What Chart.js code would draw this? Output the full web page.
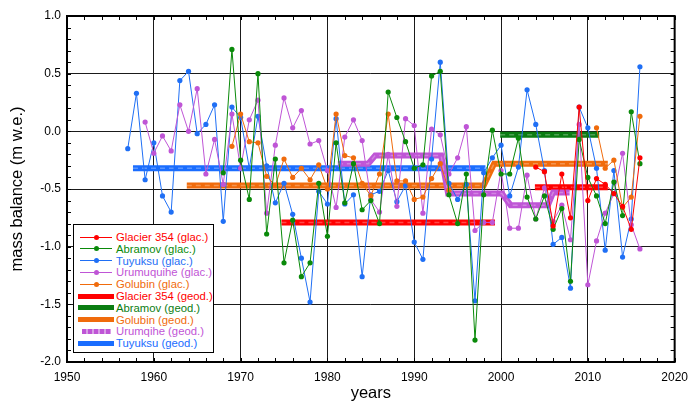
<!DOCTYPE html>
<html><head><meta charset="utf-8">
<script src="https://cdn.jsdelivr.net/npm/chart.js@4"></script>
<style>
html,body{margin:0;padding:0;background:#fff;}
#wrap{position:relative;width:696px;height:404px;}
#legend{position:absolute;left:73px;top:224px;width:139px;height:127px;border:1px solid #000;background:#fff;font-family:"Liberation Sans",Arial,sans-serif;font-size:11.3px;}
.row{position:absolute;left:0;width:139px;height:12px;}
.txt{position:absolute;left:42px;top:0;line-height:12px;white-space:nowrap;}
.ln{position:absolute;left:6px;top:5.5px;width:32px;height:1px;}
.dot{position:absolute;left:19.5px;top:3.5px;width:5px;height:5px;border-radius:50%;}
.bar{position:absolute;left:4px;top:3.5px;width:36px;height:5px;}
</style>
</head><body>
<div id="wrap">
<canvas id="c" width="696" height="404"></canvas>
<div id="legend"></div>
</div>
<script>
// ---- data ----
const tuyuksuYears = [1957,1958,1959,1960,1961,1962,1963,1964,1965,1966,1967,1968,1969,1970,1971,1972,1973,1974,1975,1976,1977,1978,1979,1980,1981,1982,1983,1984,1985,1986,1987,1988,1989,1990,1991,1992,1993,1994,1995,1996,1997,1998,1999,2000,2001,2002,2003,2004,2005,2006,2007,2008,2009,2010,2011,2012,2013,2014,2015,2016];
const tuyuksuValues = [-0.15,0.33,-0.42,-0.10,-0.56,-0.70,0.44,0.52,-0.02,0.06,0.23,-0.78,0.21,0.12,-0.32,0.13,-0.30,-0.62,-0.45,-0.72,-1.10,-1.48,-0.52,-0.63,0.11,-0.63,-0.55,-1.26,-0.55,-0.52,-0.34,-0.61,-0.47,-0.96,-1.11,-0.24,0.60,-0.45,-0.59,-0.46,-1.47,-0.36,-0.23,-0.12,-0.56,-0.31,0.36,0.06,-0.34,-0.98,-0.92,-1.36,0.21,0.03,-0.32,-1.03,-0.34,-1.09,-0.76,0.56];

const abramovYears = [1968,1969,1970,1971,1972,1973,1974,1975,1976,1977,1978,1979,1980,1981,1982,1983,1984,1985,1986,1987,1988,1989,1990,1991,1992,1993,1994,1995,1996,1997,1998,1999,2000,2001,2002,2003,2004,2005,2006,2007,2008,2009,2010,2011,2012,2013,2014,2015,2016];
const abramovValues = [-0.36,0.71,-0.25,-0.59,0.50,-0.89,-0.24,-1.14,-0.77,-1.26,-1.14,-0.45,-0.91,-0.10,-0.62,-0.28,-0.68,-0.60,-0.80,0.34,0.12,-0.09,-0.32,-0.29,0.48,0.52,-0.55,-0.80,-0.37,-1.81,-0.55,0.01,-0.37,-0.37,-0.06,-0.57,-0.76,-0.56,-0.85,-0.67,-1.30,-0.07,-0.40,-0.56,-0.80,-0.44,-0.73,0.17,-0.28];

const urumqiYears = [1959,1960,1961,1962,1963,1964,1965,1966,1967,1968,1969,1970,1971,1972,1973,1974,1975,1976,1977,1978,1979,1980,1981,1982,1983,1984,1985,1986,1987,1988,1989,1990,1991,1992,1993,1994,1995,1996,1997,1998,1999,2000,2001,2002,2003,2004,2005,2006,2007,2008,2009,2010,2011,2012,2013,2014,2015,2016];
const urumqiValues = [0.08,-0.19,-0.04,-0.17,0.23,0.00,0.37,-0.37,-0.07,-0.46,0.15,-0.32,0.10,0.27,-0.71,-0.12,0.29,0.03,0.18,-0.11,-0.08,-0.34,-0.66,-0.05,0.10,-0.08,-0.59,-0.70,-0.20,-0.65,0.11,0.05,-0.71,0.02,-0.03,-0.37,-0.23,0.04,-0.86,-0.79,-0.79,-0.34,-0.84,-0.84,-0.38,-0.76,-0.49,-0.78,-0.64,-0.94,0.06,-1.33,-0.95,-0.71,-0.54,-0.19,-0.81,-1.02];

const glacier354Years = [2004,2005,2006,2007,2008,2009,2010,2011,2012,2013,2014,2015,2016];
const glacier354Values = [-0.31,-0.35,-0.82,-0.37,-0.75,0.21,-0.60,-0.41,-0.46,-0.54,-0.65,-0.85,-0.23];

const golubinYears = [1969,1970,1971,1972,1973,1974,1975,1976,1977,1978,1979,1980,1981,1982,1983,1984,1985,1986,1987,1988,1989,1990,1991,1992,1993,1994,2011,2012,2013,2014,2015,2016];
const golubinValues = [-0.13,0.15,-0.09,-0.10,-0.39,-0.47,-0.24,-0.40,-0.32,-0.42,-0.29,-0.50,0.15,-0.21,-0.23,-0.45,-0.56,-0.37,0.15,-0.43,-0.43,-0.59,-0.57,-0.41,-0.28,-0.51,0.03,-0.32,-0.25,-0.66,-0.57,0.13];

// geodetic (null separates periods)
const geodGlacier354X = [1974.7,1999.3,2001.5,2003.9,2012.3];
const geodGlacier354Y = [-0.79,-0.79,null,-0.485,-0.485];
const geodAbramovX = [1999.9,2011.3];
const geodAbramovY = [-0.03,-0.03];
const geodGolubinX = [1963.8,1998.0,1999.2,2012.3];
const geodGolubinY = [-0.47,-0.47,-0.28,-0.28];
const geodUrumqiX = [1981.2,1984.7,1985.5,1993.1,1993.9,2000.1,2001.1,2005.4,2006.0,2007.9];
const geodUrumqiY = [-0.28,-0.28,-0.21,-0.21,-0.54,-0.54,-0.64,-0.64,-0.53,-0.53];
const geodTuyuksuX = [1957.6,1998.2];
const geodTuyuksuY = [-0.32,-0.32];

const xTicks = [1950,1960,1970,1980,1990,2000,2010,2020];
const yTicks = [-2.0,-1.5,-1.0,-0.5,0.0,0.5,1.0];

// ---- colours ----
const C = {
  red:'#ff0000', green:'#0a8a0a', blue:'#1f6ff5', purple:'#bf55d6', orange:'#f06b0c',
  redG:'#ff0000', greenG:'#0b7d12', blueG:'#1a6dff', purpleG:'#bf55d6', orangeG:'#f06b0c'
};

function glacPoints(xs, ys){
  const pts=[];
  for(let i=0;i<xs.length;i++){
    if(i>0 && xs[i]-xs[i-1]>1.5) pts.push({x:(xs[i]+xs[i-1])/2,y:null});
    pts.push({x:xs[i],y:ys[i]});
  }
  return pts;
}
function geodPoints(xs, ys){ return xs.map((x,i)=>({x:x,y:ys[i]})); }

function glac(label, xs, ys, col, order){
  return {label, data:glacPoints(xs,ys), borderColor:col, backgroundColor:col, pointBackgroundColor:col,
    pointBorderWidth:0, pointRadius:2.6, borderWidth:1, tension:0, spanGaps:false, order};
}
function geod(label, xs, ys, col, order){
  return {label, data:geodPoints(xs,ys), borderColor:col, borderWidth:6, pointRadius:0, tension:0,
    spanGaps:false, order, borderCapStyle:'butt'};
}
function geodDash(xs, ys, order){
  return {label:'', data:geodPoints(xs,ys), borderColor:'rgba(255,255,255,0.28)', borderWidth:1.5,
    borderDash:[5,4], pointRadius:0, tension:0, spanGaps:false, order, borderCapStyle:'butt'};
}

const datasets = [
  glac('Glacier 354 (glac.)', glacier354Years, glacier354Values, C.red, 1),
  glac('Abramov (glac.)', abramovYears, abramovValues, C.green, 2),
  glac('Golubin (glac.)', golubinYears, golubinValues, C.orange, 3),
  glac('Urumuquihe (glac.)', urumqiYears, urumqiValues, C.purple, 4),
  glac('Tuyuksu (glac.)', tuyuksuYears, tuyuksuValues, C.blue, 5),
  geodDash(geodUrumqiX, geodUrumqiY, 10),
  geod('Urumqihe (geod.)', geodUrumqiX, geodUrumqiY, C.purpleG, 11),
  geodDash(geodGolubinX, geodGolubinY, 12),
  geod('Golubin (geod.)', geodGolubinX, geodGolubinY, C.orangeG, 13),
  geodDash(geodTuyuksuX, geodTuyuksuY, 14),
  geod('Tuyuksu (geod.)', geodTuyuksuX, geodTuyuksuY, C.blueG, 15),
  geodDash(geodGlacier354X, geodGlacier354Y, 16),
  geod('Glacier 354 (geod.)', geodGlacier354X, geodGlacier354Y, C.redG, 17),
  geodDash(geodAbramovX, geodAbramovY, 18),
  geod('Abramov (geod.)', geodAbramovX, geodAbramovY, C.greenG, 19)
];

Chart.defaults.font.family = '"Liberation Sans", Arial, sans-serif';
Chart.defaults.color = '#000';

const frame = {
  id:'frame',
  afterDraw(chart){
    const {ctx, chartArea:a, scales:{x,y}} = chart;
    ctx.save();
    ctx.strokeStyle='#000'; ctx.lineWidth=1;
    ctx.beginPath();
    for(let v=1950; v<=2020; v+=2){
      const px=Math.round(x.getPixelForValue(v))+0.5;
      ctx.moveTo(px,a.bottom); ctx.lineTo(px,a.bottom-4);
      ctx.moveTo(px,a.top); ctx.lineTo(px,a.top+4);
    }
    for(let i=-20;i<=10;i++){
      const py=Math.round(y.getPixelForValue(i/10))+0.5;
      ctx.moveTo(a.left,py); ctx.lineTo(a.left+4,py);
      ctx.moveTo(a.right,py); ctx.lineTo(a.right-4,py);
    }
    ctx.stroke();
    ctx.lineWidth=2;
    ctx.strokeRect(a.left,a.top,a.right-a.left,a.bottom-a.top);
    ctx.restore();
  }
};

new Chart(document.getElementById('c'), {
  type:'line',
  data:{datasets},
  options:{
    responsive:false, animation:false, devicePixelRatio:1,
    layout:{padding:{top:16,right:14,left:0,bottom:0}},
    plugins:{legend:{display:false}, tooltip:{enabled:false}},
    scales:{
      x:{type:'linear', min:1950, max:2020,
        afterBuildTicks:s=>{s.ticks = xTicks.map(v=>({value:v}));},
        ticks:{font:{size:12}, padding:8, color:'#000', callback:v=>String(v), maxRotation:0},
        grid:{color:'#1a1a1a', lineWidth:1, drawTicks:false},
        border:{display:false},
        title:{display:true, text:'years', font:{size:16.5}, color:'#000', padding:{top:0,bottom:1}},
        afterFit:s=>{s.height=42;}
      },
      y:{type:'linear', min:-2, max:1,
        afterBuildTicks:s=>{s.ticks = yTicks.map(v=>({value:v}));},
        ticks:{font:{size:12}, padding:6, color:'#000', callback:v=>Number(v).toFixed(1)},
        grid:{color:'#1a1a1a', lineWidth:1, drawTicks:false},
        border:{display:false},
        title:{display:true, text:'mass balance (m w.e.)', font:{size:16.5}, color:'#000', padding:{top:8,bottom:0}},
        afterFit:s=>{s.width=67;}
      }
    }
  },
  plugins:[frame]
});

// ---- legend (HTML) ----
const legendItems = [
  ['Glacier 354 (glac.)', C.red, 'glac'],
  ['Abramov (glac.)', C.green, 'glac'],
  ['Tuyuksu (glac.)', C.blue, 'glac'],
  ['Urumuquihe (glac.)', C.purple, 'glac'],
  ['Golubin (glac.)', C.orange, 'glac'],
  ['Glacier 354 (geod.)', C.redG, 'geod'],
  ['Abramov (geod.)', C.greenG, 'geod'],
  ['Golubin (geod.)', C.orangeG, 'geod'],
  ['Urumqihe (geod.)', C.purpleG, 'dash'],
  ['Tuyuksu (geod.)', C.blueG, 'geod']
];
const leg = document.getElementById('legend');
legendItems.forEach((it,i)=>{
  const r=document.createElement('div'); r.className='row'; r.style.top=(6+i*11.8)+'px';
  let s='';
  if(it[2]==='glac'){
    s='<div class="ln" style="background:'+it[1]+'"></div><div class="dot" style="background:'+it[1]+'"></div>';
  } else if(it[2]==='geod'){
    s='<div class="bar" style="background:'+it[1]+'"></div>';
  } else {
    s='<div class="bar" style="left:8px;width:29px;background:repeating-linear-gradient(90deg,'+it[1]+' 0 4px,#d9a0e6 4px 6px)"></div>';
  }
  r.innerHTML = s+'<div class="txt" style="color:'+it[1]+'">'+it[0]+'</div>';
  leg.appendChild(r);
});
</script>
</body></html>
